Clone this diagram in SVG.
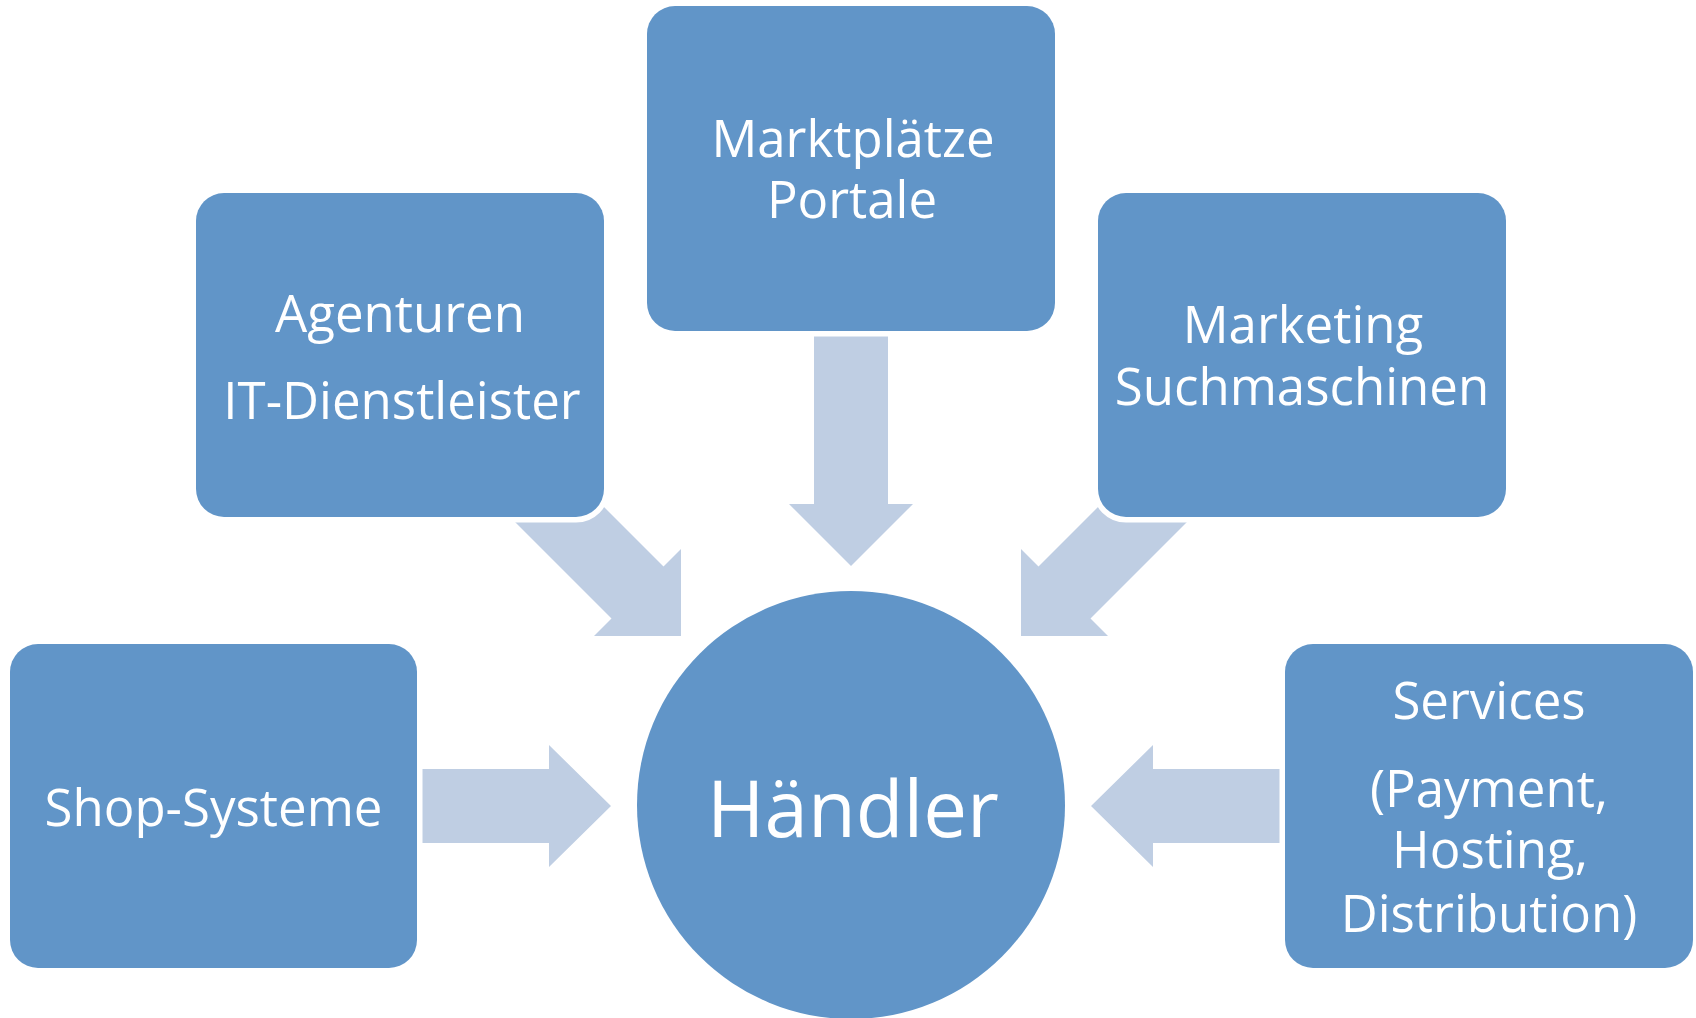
<svg xmlns="http://www.w3.org/2000/svg" width="1696" height="1018" viewBox="0 0 1696 1018">
<style>
.box{fill:#6195C8;stroke:#FFFFFF;stroke-width:11;paint-order:stroke}
.arrow{fill:#BFCEE3;stroke:none}
.t{font-family:"Open Sans","Noto Sans","Liberation Sans",sans-serif;font-size:51px;fill:#FFFFFF;text-anchor:middle}
.big{font-size:78px}
</style>
<rect width="1696" height="1018" fill="#FFFFFF"/>
<g id="connectors">
<polygon class="arrow" points="814,300 888,300 888,504 913,504 851,566 789,504 814,504"/>
<polygon class="arrow" points="553.5,456.5 663.5,566.5 681,549 681,636 594,636 611.5,618.5 501.5,508.5"/>
<polygon class="arrow" points="1148.5,456.5 1038.5,566.5 1021,549 1021,636 1108,636 1090.5,618.5 1200.5,508.5"/>
<polygon class="arrow" points="400,769 549,769 549,745 611,806 549,867 549,843 400,843"/>
<polygon class="arrow" points="1302,769 1153,769 1153,745 1091,806 1153,867 1153,843 1302,843"/>
</g>
<g id="node-marktplaetze">
<rect class="box" x="647" y="6" width="408" height="325" rx="28" ry="28"/>
<text class="t" x="853" y="157">Marktplätze</text>
<text class="t" x="852" y="218">Portale</text>
</g>
<g id="node-agenturen">
<rect class="box" x="196" y="193" width="408" height="324" rx="28" ry="28"/>
<text class="t" x="400" y="332">Agenturen</text>
<text class="t" x="402" y="419">IT-Dienstleister</text>
</g>
<g id="node-marketing">
<rect class="box" x="1098" y="193" width="408" height="324" rx="28" ry="28"/>
<text class="t" x="1303" y="343">Marketing</text>
<text class="t" x="1302" y="405">Suchmaschinen</text>
</g>
<g id="node-shop">
<rect class="box" x="10" y="644" width="407" height="324" rx="28" ry="28"/>
<text class="t" x="213.5" y="826">Shop-Systeme</text>
</g>
<g id="node-services">
<rect class="box" x="1285" y="644" width="408" height="324" rx="28" ry="28"/>
<text class="t" x="1489" y="719">Services</text>
<text class="t" x="1489" y="807">(Payment,</text>
<text class="t" x="1490" y="868">Hosting,</text>
<text class="t" x="1489" y="932">Distribution)</text>
</g>
<g id="node-haendler">
<circle cx="851" cy="805" r="214" fill="#6195C8"/>
<text class="t big" x="853" y="837">Händler</text>
</g>
</svg>
